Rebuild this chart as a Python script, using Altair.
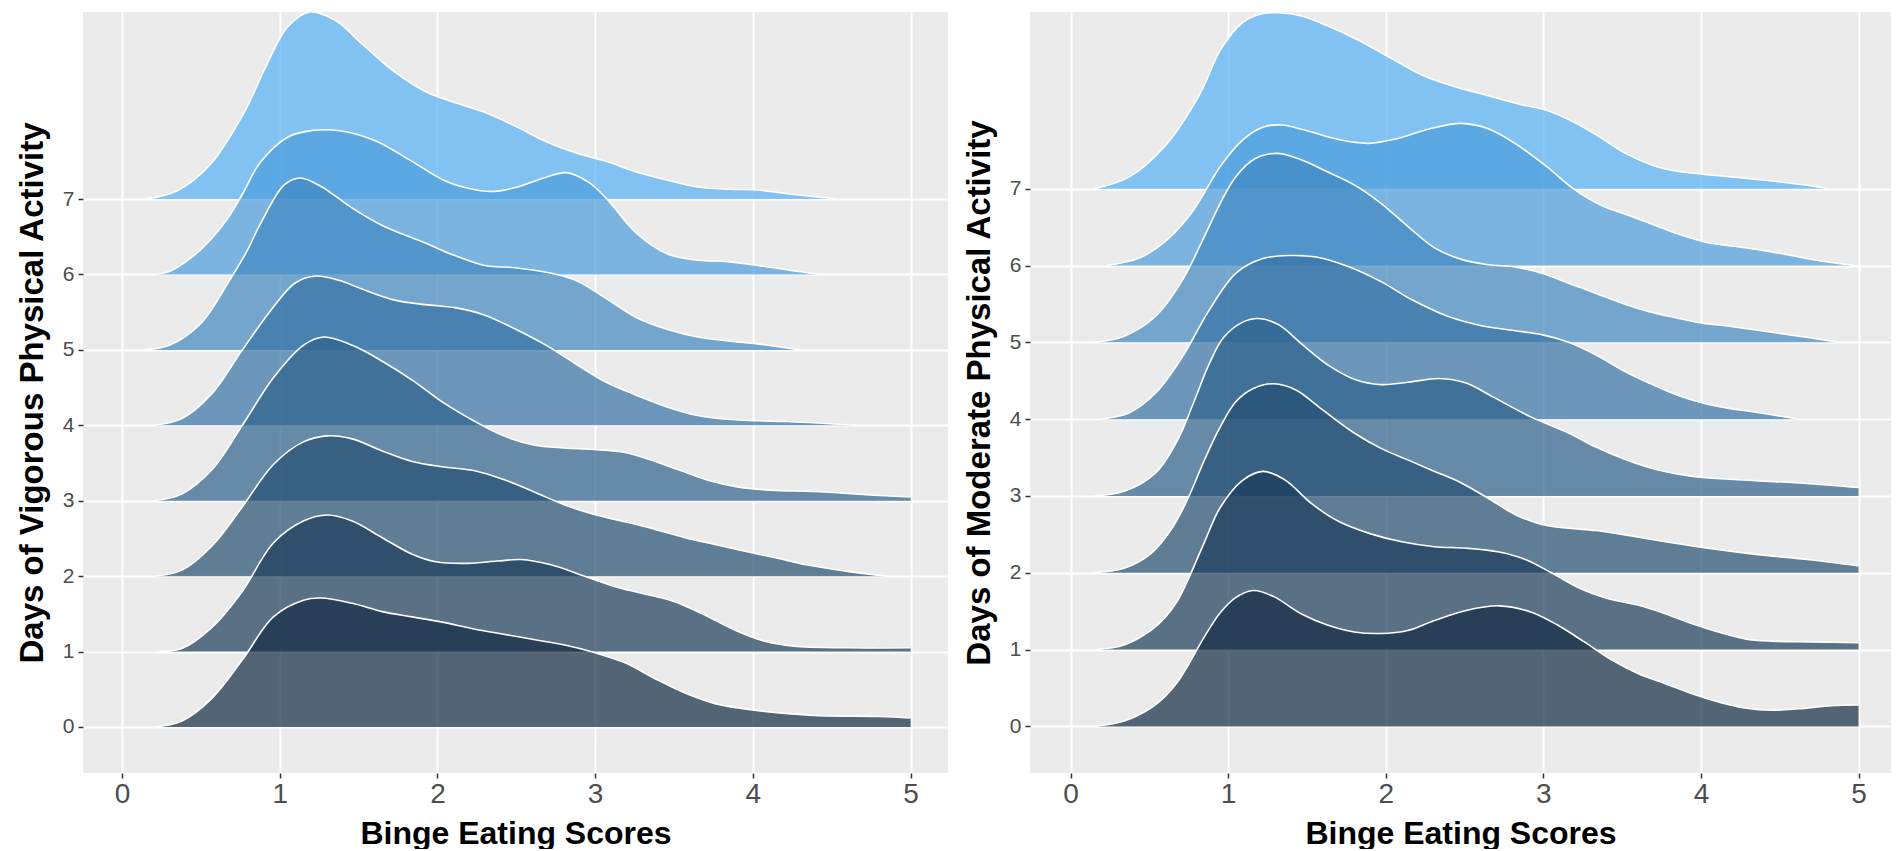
import altair as alt
import pandas as pd

X_TICKS = [0, 1, 2, 3, 4, 5]
Y_TICKS = [0, 1, 2, 3, 4, 5, 6, 7]
X_TITLE = "Binge Eating Scores"
LEFT_TITLE = "Days of Vigorous Physical Activity"
RIGHT_TITLE = "Days of Moderate Physical Activity"
FILL_LOW = "#132B43"
FILL_HIGH = "#56B1F7"

# ---- Vigorous activity ridges: (binge score, density height) ----
V7 = [(0.15, 0), (0.35, 0.11), (0.56, 0.46), (0.77, 1.13), (0.92, 1.79), (1.05, 2.28), (1.19, 2.48),
      (1.36, 2.36), (1.51, 2.08), (1.72, 1.70), (1.93, 1.42), (2.14, 1.26), (2.30, 1.15), (2.49, 0.97),
      (2.69, 0.76), (2.88, 0.61), (3.07, 0.50), (3.26, 0.36), (3.46, 0.25), (3.65, 0.16), (3.84, 0.13),
      (4.03, 0.12), (4.22, 0.07), (4.54, 0)]
V6 = [(0.19, 0), (0.30, 0.04), (0.45, 0.24), (0.57, 0.48), (0.67, 0.74), (0.76, 1.05), (0.875, 1.48),
      (1.05, 1.82), (1.21, 1.91), (1.40, 1.90), (1.61, 1.77), (1.83, 1.51), (2.04, 1.25), (2.20, 1.14),
      (2.34, 1.10), (2.49, 1.15), (2.69, 1.29), (2.82, 1.35), (2.96, 1.22), (3.07, 1.01), (3.26, 0.55),
      (3.46, 0.27), (3.65, 0.19), (3.84, 0.17), (4.03, 0.12), (4.22, 0.06), (4.42, 0)]
V5 = [(0.14, 0), (0.30, 0.06), (0.50, 0.35), (0.69, 0.95), (0.79, 1.30), (0.88, 1.68), (1.03, 2.19),
      (1.13, 2.28), (1.26, 2.17), (1.46, 1.88), (1.65, 1.65), (1.92, 1.42), (2.11, 1.25), (2.30, 1.12),
      (2.49, 1.09), (2.69, 1.03), (2.88, 0.92), (3.07, 0.68), (3.26, 0.43), (3.46, 0.27), (3.65, 0.17),
      (3.84, 0.12), (4.03, 0.08), (4.30, 0)]
V4 = [(0.20, 0), (0.38, 0.09), (0.57, 0.42), (0.76, 0.99), (0.96, 1.57), (1.10, 1.89), (1.23, 1.98),
      (1.38, 1.92), (1.53, 1.80), (1.73, 1.66), (1.92, 1.60), (2.11, 1.56), (2.30, 1.46), (2.49, 1.28),
      (2.69, 1.06), (2.88, 0.81), (3.07, 0.57), (3.26, 0.40), (3.46, 0.24), (3.65, 0.13), (3.84, 0.08),
      (4.03, 0.06), (4.22, 0.05), (4.66, 0)]
V3 = [(0.20, 0), (0.38, 0.09), (0.57, 0.41), (0.76, 0.99), (0.96, 1.63), (1.15, 2.06), (1.28, 2.17),
      (1.46, 2.06), (1.65, 1.85), (1.84, 1.60), (2.03, 1.31), (2.23, 1.06), (2.42, 0.86), (2.61, 0.74),
      (2.80, 0.70), (2.99, 0.68), (3.19, 0.64), (3.34, 0.55), (3.53, 0.41), (3.72, 0.27), (3.91, 0.18),
      (4.11, 0.14), (4.42, 0.12), (4.80, 0.07), (5.0, 0.05)]
V2 = [(0.21, 0), (0.38, 0.08), (0.57, 0.40), (0.76, 0.91), (0.96, 1.48), (1.15, 1.78), (1.30, 1.86),
      (1.46, 1.82), (1.65, 1.66), (1.84, 1.52), (2.03, 1.45), (2.23, 1.40), (2.42, 1.28), (2.61, 1.12),
      (2.80, 0.95), (2.99, 0.82), (3.19, 0.72), (3.38, 0.62), (3.57, 0.51), (3.76, 0.42), (3.95, 0.33),
      (4.15, 0.24), (4.34, 0.15), (4.61, 0.06), (4.85, 0)]
V1 = [(0.23, 0), (0.38, 0.04), (0.57, 0.32), (0.76, 0.79), (0.96, 1.44), (1.15, 1.73), (1.30, 1.81),
      (1.46, 1.73), (1.65, 1.51), (1.84, 1.29), (1.99, 1.19), (2.19, 1.17), (2.38, 1.20), (2.53, 1.22),
      (2.72, 1.15), (2.92, 1.01), (3.11, 0.87), (3.30, 0.77), (3.49, 0.67), (3.68, 0.50), (3.88, 0.29),
      (4.07, 0.14), (4.26, 0.07), (4.61, 0.05), (5.0, 0.05)]
V0 = [(0.20, 0), (0.38, 0.08), (0.57, 0.38), (0.76, 0.88), (0.96, 1.46), (1.15, 1.68), (1.26, 1.71),
      (1.46, 1.64), (1.65, 1.53), (1.84, 1.46), (2.03, 1.39), (2.23, 1.30), (2.42, 1.23), (2.61, 1.16),
      (2.80, 1.09), (2.99, 0.99), (3.19, 0.85), (3.38, 0.64), (3.57, 0.45), (3.76, 0.31), (3.95, 0.24),
      (4.15, 0.19), (4.42, 0.15), (4.80, 0.14), (5.0, 0.12)]

# ---- Moderate activity ridges ----
M7 = [(0.15, 0), (0.37, 0.15), (0.61, 0.58), (0.82, 1.23), (0.95, 1.80), (1.09, 2.16), (1.22, 2.28),
      (1.32, 2.29), (1.46, 2.25), (1.63, 2.12), (1.83, 1.93), (2.04, 1.69), (2.24, 1.47), (2.45, 1.32),
      (2.65, 1.21), (2.85, 1.10), (3.02, 1.02), (3.19, 0.87), (3.36, 0.67), (3.53, 0.45), (3.70, 0.30),
      (3.87, 0.22), (4.01, 0.19), (4.21, 0.15), (4.45, 0.10), (4.69, 0.04), (4.81, 0)]
M6 = [(0.23, 0), (0.44, 0.10), (0.61, 0.33), (0.78, 0.72), (0.95, 1.29), (1.09, 1.63), (1.22, 1.80),
      (1.34, 1.83), (1.49, 1.76), (1.70, 1.64), (1.89, 1.59), (2.07, 1.65), (2.28, 1.78), (2.48, 1.85),
      (2.65, 1.78), (2.82, 1.59), (3.02, 1.29), (3.19, 1.00), (3.36, 0.79), (3.53, 0.66), (3.70, 0.53),
      (3.87, 0.40), (4.04, 0.30), (4.21, 0.25), (4.38, 0.20), (4.55, 0.14), (4.76, 0.06), (4.98, 0)]
M5 = [(0.15, 0), (0.34, 0.08), (0.54, 0.34), (0.71, 0.81), (0.85, 1.38), (0.95, 1.81), (1.05, 2.16),
      (1.17, 2.39), (1.31, 2.46), (1.46, 2.38), (1.63, 2.22), (1.80, 2.05), (1.97, 1.81), (2.14, 1.51),
      (2.31, 1.23), (2.48, 1.08), (2.65, 1.01), (2.82, 0.98), (2.99, 0.90), (3.16, 0.77), (3.33, 0.64),
      (3.50, 0.51), (3.67, 0.40), (3.84, 0.32), (4.01, 0.25), (4.18, 0.21), (4.35, 0.16), (4.52, 0.11),
      (4.69, 0.06), (4.88, 0)]
M4 = [(0.19, 0), (0.37, 0.08), (0.54, 0.34), (0.71, 0.81), (0.88, 1.42), (1.05, 1.90), (1.22, 2.09),
      (1.39, 2.13), (1.56, 2.11), (1.77, 1.98), (1.97, 1.79), (2.17, 1.55), (2.38, 1.35), (2.58, 1.23),
      (2.79, 1.16), (2.99, 1.10), (3.16, 1.00), (3.33, 0.84), (3.50, 0.64), (3.67, 0.47), (3.84, 0.32),
      (4.01, 0.21), (4.18, 0.14), (4.35, 0.09), (4.62, 0)]
M3 = [(0.14, 0), (0.34, 0.06), (0.54, 0.30), (0.68, 0.73), (0.78, 1.21), (0.88, 1.72), (0.97, 2.06),
      (1.09, 2.26), (1.19, 2.31), (1.32, 2.23), (1.46, 1.99), (1.63, 1.71), (1.80, 1.52), (1.97, 1.45),
      (2.14, 1.48), (2.34, 1.53), (2.51, 1.47), (2.68, 1.29), (2.92, 1.03), (3.16, 0.82), (3.33, 0.64),
      (3.50, 0.49), (3.67, 0.37), (3.84, 0.29), (4.01, 0.24), (4.35, 0.20), (4.69, 0.16), (5.0, 0.11)]
M2 = [(0.14, 0), (0.34, 0.06), (0.51, 0.25), (0.65, 0.60), (0.75, 0.99), (0.85, 1.47), (0.95, 1.90),
      (1.05, 2.23), (1.16, 2.40), (1.29, 2.46), (1.43, 2.38), (1.60, 2.12), (1.80, 1.82), (1.97, 1.62),
      (2.14, 1.47), (2.31, 1.32), (2.48, 1.17), (2.65, 0.97), (2.82, 0.76), (2.99, 0.63), (3.16, 0.58),
      (3.33, 0.55), (3.50, 0.50), (3.67, 0.44), (4.01, 0.33), (4.35, 0.24), (4.69, 0.17), (5.0, 0.09)]
M1 = [(0.16, 0), (0.34, 0.06), (0.51, 0.25), (0.60, 0.42), (0.68, 0.64), (0.75, 0.93), (0.85, 1.40),
      (0.95, 1.85), (1.09, 2.20), (1.22, 2.32), (1.36, 2.21), (1.53, 1.90), (1.70, 1.67), (1.90, 1.51),
      (2.11, 1.40), (2.31, 1.34), (2.51, 1.32), (2.72, 1.27), (2.89, 1.17), (3.06, 0.99), (3.23, 0.80),
      (3.40, 0.67), (3.60, 0.58), (3.77, 0.47), (3.94, 0.34), (4.11, 0.23), (4.28, 0.14), (4.45, 0.11),
      (4.69, 0.10), (5.0, 0.09)]
M0 = [(0.15, 0), (0.34, 0.07), (0.51, 0.24), (0.60, 0.39), (0.68, 0.58), (0.75, 0.81), (0.85, 1.17),
      (0.95, 1.48), (1.05, 1.68), (1.16, 1.77), (1.29, 1.69), (1.46, 1.47), (1.63, 1.32), (1.80, 1.23),
      (1.97, 1.21), (2.14, 1.25), (2.31, 1.38), (2.51, 1.51), (2.72, 1.57), (2.92, 1.49), (3.09, 1.32),
      (3.26, 1.10), (3.43, 0.87), (3.60, 0.69), (3.77, 0.56), (3.94, 0.43), (4.11, 0.32), (4.28, 0.24),
      (4.45, 0.21), (4.62, 0.23), (4.83, 0.27), (5.0, 0.28)]

VIGOROUS = {7: V7, 6: V6, 5: V5, 4: V4, 3: V3, 2: V2, 1: V1, 0: V0}
MODERATE = {7: M7, 6: M6, 5: M5, 4: M4, 3: M3, 2: M2, 1: M1, 0: M0}

FONT = "Liberation Sans"


def make_axes(y_title):
    xaxis = alt.Axis(values=X_TICKS, format="d", title=X_TITLE, labelFontSize=28,
                     labelColor="#4D4D4D", labelFont=FONT, titleFont=FONT, titleFontSize=32,
                     titleFontWeight="bold", titleColor="black", tickSize=5, tickColor="#333333",
                     tickWidth=1.5, labelPadding=2, titlePadding=10, domain=False, grid=True,
                     gridColor="white", gridWidth=2, labelFlush=False, minExtent=35, maxExtent=35)
    yaxis = alt.Axis(values=Y_TICKS, format="d", title=y_title, labelFontSize=21,
                     labelColor="#4D4D4D", labelFont=FONT, titleFont=FONT, titleFontSize=33,
                     titleFontWeight="bold", titleColor="black", tickSize=5, tickColor="#333333",
                     tickWidth=1.5, labelPadding=4, titlePadding=13, domain=False, grid=True,
                     gridColor="white", gridWidth=2, minExtent=21, maxExtent=21)
    return xaxis, yaxis


def panel(ridges, y_title, xdom, ydom, width, height):
    xaxis, yaxis = make_axes(y_title)
    xscale = alt.Scale(domain=xdom, nice=False, zero=False)
    yscale = alt.Scale(domain=ydom, nice=False, zero=False)
    cscale = alt.Scale(domain=[0, 7], range=[FILL_LOW, FILL_HIGH], interpolate="lab")
    layers = []
    for k in sorted(ridges, reverse=True):
        df = pd.DataFrame({
            "x": [p[0] for p in ridges[k]],
            "top": [k + p[1] for p in ridges[k]],
            "base": [k] * len(ridges[k]),
            "ridge": [k] * len(ridges[k]),
        })
        base = alt.Chart(df)
        area = base.mark_area(interpolate="catmull-rom", fillOpacity=0.7).encode(
            x=alt.X("x:Q", scale=xscale, axis=xaxis),
            y=alt.Y("top:Q", scale=yscale, axis=yaxis),
            y2="base:Q",
            color=alt.Color("ridge:Q", scale=cscale, legend=None),
        )
        line = base.mark_line(interpolate="catmull-rom", color="white", strokeWidth=1.6).encode(
            x=alt.X("x:Q", scale=xscale, axis=xaxis),
            y=alt.Y("top:Q", scale=yscale, axis=yaxis),
        )
        layers += [area, line]
    return alt.layer(*layers).properties(width=width, height=height)


left = panel(VIGOROUS, LEFT_TITLE, [-0.247, 5.237], [-0.61, 9.48], 865, 761)
right = panel(MODERATE, RIGHT_TITLE, [-0.257, 5.206], [-0.606, 9.30], 861, 761)

chart = alt.hconcat(left, right, spacing=15).properties(
    padding={"left": 8, "top": 0, "right": 0, "bottom": 0},
    background="white",
).configure_view(fill="#EBEBEB", strokeWidth=0)

chart.save("out.html", embed_options={"renderer": "svg", "actions": False})
